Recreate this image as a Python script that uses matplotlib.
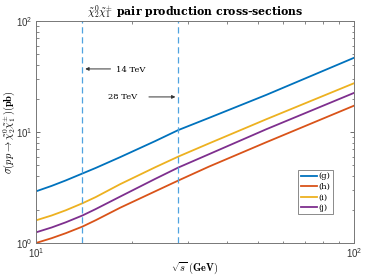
import matplotlib
matplotlib.use("Agg")
import matplotlib.pyplot as plt
from matplotlib.ticker import LogLocator, NullFormatter

plt.rcParams["mathtext.fontset"] = "cm"
plt.rcParams["font.family"] = ["Liberation Sans", "DejaVu Sans"]

# sqrt(s) in GeV
sqrt_s = [10, 11.2, 12.4, 14, 15.4, 18.4, 23.7, 28, 35, 53, 100]
sigma_g = [2.92, 3.27, 3.66, 4.23, 4.74, 5.94, 8.28, 10.4, 13.4, 21.6, 46.6]
sigma_h = [1.0, 1.105, 1.225, 1.406, 1.603, 2.08, 2.92, 3.65, 4.88, 8.09, 17.26]
sigma_i = [1.60, 1.77, 1.97, 2.28, 2.59, 3.39, 4.81, 6.0, 7.89, 13.03, 27.5]
sigma_j = [1.247, 1.38, 1.535, 1.77, 2.02, 2.62, 3.78, 4.78, 6.31, 10.59, 22.5]
labels = ["(g)", "(h)", "(i)", "(j)"]
colors = ["#0072BD", "#D95319", "#EDB120", "#7E2F8E"]
energies = [14, 28]

fig = plt.figure(figsize=(3.74, 2.76), dpi=100)
ax = fig.add_axes([0.0963, 0.1196, 0.8502, 0.8043])

for y, lab, c in zip([sigma_g, sigma_h, sigma_i, sigma_j], labels, colors):
    ax.plot(sqrt_s, y, color=c, lw=1.3, label=lab)

for e in energies:
    ax.axvline(e, color="#4FA3E0", lw=0.9, ls=(0, (5, 3)))

ax.set_xscale("log")
ax.set_yscale("log")
ax.set_xlim(10, 100)
ax.set_ylim(1, 100)

ax.annotate("", xy=(14.0, 37), xytext=(17.5, 37),
            arrowprops=dict(arrowstyle="-|>", color="#333333", lw=0.7, mutation_scale=5))
ax.text(17.9, 36, "14 TeV", family="DejaVu Serif", fontsize=6, va="center", ha="left")
ax.annotate("", xy=(28.0, 20.7), xytext=(22.2, 20.7),
            arrowprops=dict(arrowstyle="-|>", color="#333333", lw=0.7, mutation_scale=5))
ax.text(16.8, 20.5, "28 TeV", family="DejaVu Serif", fontsize=6, va="center", ha="left")

ax.set_title(r"$\tilde{\chi}_2^0\tilde{\chi}_1^{\pm}$ pair production cross-sections",
             family="DejaVu Serif", fontweight="bold", fontsize=7.8, pad=3)
ax.set_ylabel(r"$\sigma(pp \rightarrow \tilde{\chi}_2^0\tilde{\chi}_1^{\pm})\mathbf{(pb)}$",
              fontsize=7.5)
ax.yaxis.set_label_coords(-0.058, 0.5)
ax.set_xlabel(r"$\sqrt{s}\ \mathbf{(GeV)}$", fontsize=7.5)
ax.xaxis.set_label_coords(0.5, -0.075)

ax.xaxis.set_minor_locator(LogLocator(subs=range(2, 10)))
ax.yaxis.set_minor_locator(LogLocator(subs=range(2, 10)))
ax.xaxis.set_minor_formatter(NullFormatter())
ax.yaxis.set_minor_formatter(NullFormatter())
ax.tick_params(which="both", direction="in", top=True, right=True,
               color="#555555", labelsize=7, labelcolor="#333333", pad=2.5)
ax.tick_params(which="major", length=3, width=0.6)
ax.tick_params(which="minor", length=1.8, width=0.5)
for s in ax.spines.values():
    s.set_color("#777777")
    s.set_linewidth(0.7)

leg = ax.legend(loc="upper left", bbox_to_anchor=(0.824, 0.329), borderaxespad=0,
                prop={"family": "DejaVu Serif", "size": 6}, handlelength=2.0,
                handletextpad=0.2, labelspacing=0.3, borderpad=0.3,
                fancybox=False, framealpha=1, edgecolor="#777777")
leg.get_frame().set_linewidth(0.6)

fig.savefig("out.png", dpi=100)
